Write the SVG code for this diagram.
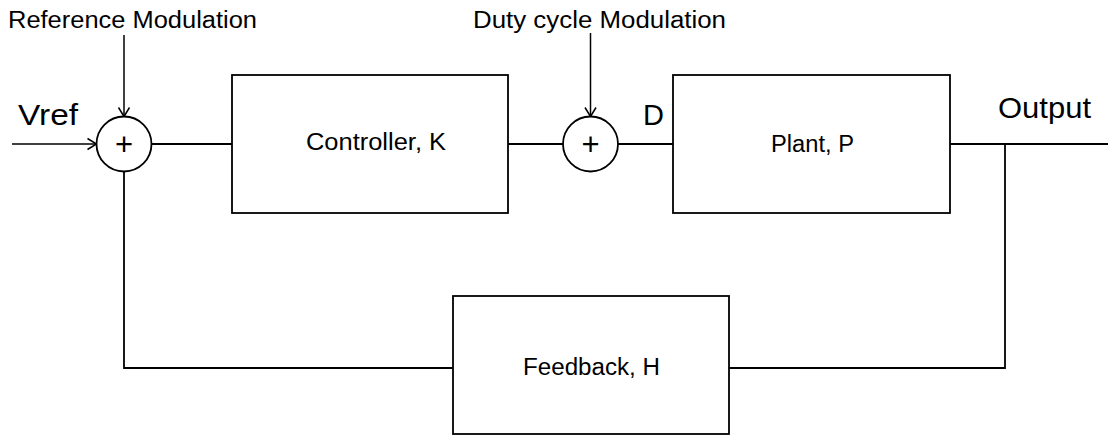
<svg xmlns="http://www.w3.org/2000/svg" width="1108" height="435" viewBox="0 0 1108 435">
<defs>
<marker id="arr" markerUnits="userSpaceOnUse" markerWidth="14" markerHeight="14" viewBox="0 0 14 14" refX="12" refY="7" orient="auto">
<path d="M3,1.5 L12,7 L3,12.5" fill="none" stroke="#000" stroke-width="1.5"/>
</marker>
</defs>
<style>
.box{fill:#fff;stroke:#000;stroke-width:1.8}
.wire{fill:none;stroke:#000;stroke-width:1.8}
.arrow{fill:none;stroke:#000;stroke-width:1.5;marker-end:url(#arr)}
text{font-family:"Liberation Sans",Arial,sans-serif;fill:#000}
.lbl{font-size:23px}
.sig{font-size:29px}
.plus{font-size:31px;text-anchor:middle}
</style>
<rect width="1108" height="435" fill="#fff"/>
<g id="connectors">
<line class="arrow" x1="12" y1="144" x2="96.5" y2="144"/>
<line class="arrow" x1="124" y1="35" x2="124" y2="116.5"/>
<line class="arrow" x1="590.5" y1="33" x2="590.5" y2="116.5"/>
<line class="wire" x1="151.5" y1="144" x2="232" y2="144"/>
<line class="wire" x1="508" y1="144" x2="563" y2="144"/>
<line class="wire" x1="618" y1="144" x2="673" y2="144"/>
<line class="wire" x1="950" y1="144" x2="1108" y2="144"/>
<polyline class="wire" points="1005,144 1005,368 729,368"/>
<polyline class="wire" points="453,368 124,368 124,171.5"/>
</g>
<g id="labels">
<text class="lbl" x="8" y="28" textLength="249" lengthAdjust="spacingAndGlyphs">Reference Modulation</text>
<text class="lbl" x="473" y="28" textLength="253" lengthAdjust="spacingAndGlyphs">Duty cycle Modulation</text>
<text class="sig" x="18" y="125" textLength="60" lengthAdjust="spacingAndGlyphs">Vref</text>
<text class="sig" x="643" y="125" font-size="26">D</text>
<text class="sig" x="998" y="118" textLength="93" lengthAdjust="spacingAndGlyphs">Output</text>
</g>
<g id="sum1">
<circle cx="124" cy="144" r="27.5" class="box"/>
<text class="plus" x="124" y="155">+</text>
</g>
<g id="sum2">
<circle cx="590.5" cy="144" r="27.5" class="box"/>
<text class="plus" x="590.5" y="155">+</text>
</g>
<g id="controller">
<rect class="box" x="232" y="75" width="276" height="138"/>
<text class="lbl" x="306" y="150" textLength="140" lengthAdjust="spacingAndGlyphs">Controller, K</text>
</g>
<g id="plant">
<rect class="box" x="673" y="75" width="277" height="138"/>
<text class="lbl" x="771" y="152" textLength="83" lengthAdjust="spacingAndGlyphs">Plant, P</text>
</g>
<g id="feedback">
<rect class="box" x="453" y="296" width="276" height="138"/>
<text class="lbl" x="523" y="375" textLength="137" lengthAdjust="spacingAndGlyphs">Feedback, H</text>
</g>
</svg>
